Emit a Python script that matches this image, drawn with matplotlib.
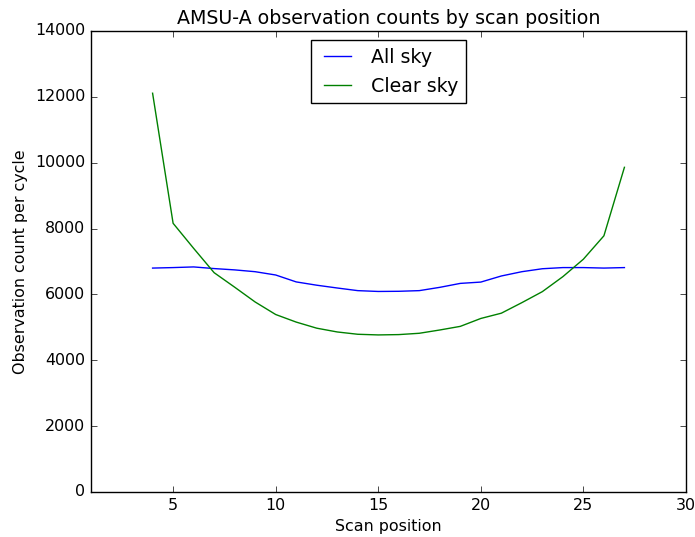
import matplotlib
matplotlib.use("Agg")
import matplotlib.pyplot as plt

# scan positions and observation counts per cycle
scan_pos = [4, 5, 6, 7, 8, 9, 10, 11, 12, 13, 14, 15, 16, 17, 18, 19, 20,
            21, 22, 23, 24, 25, 26, 27]
all_sky = [6800, 6815, 6835, 6785, 6745, 6690, 6590, 6380, 6280, 6195, 6115,
           6090, 6095, 6115, 6215, 6335, 6375, 6560, 6690, 6780, 6815, 6815,
           6800, 6815]
clear_sky = [12110, 8160, 7400, 6660, 6220, 5770, 5390, 5160, 4975, 4860,
             4790, 4770, 4780, 4820, 4920, 5030, 5270, 5430, 5750, 6085,
             6540, 7070, 7780, 9860]

plt.style.use("classic")
plt.rcParams["font.size"] = 11.4
fig = plt.figure(figsize=(6.95, 5.37), dpi=100)
ax = fig.add_axes([0.131, 0.0838, 0.856, 0.8585])

ax.plot(scan_pos, all_sky, label="All sky")
ax.plot(scan_pos, clear_sky, label="Clear sky")
ax.set_xlim(1, 30)
ax.set_ylim(0, 14000)
ax.set_title("AMSU-A observation counts by scan position")
ax.set_xlabel("Scan position")
ax.set_ylabel("Observation count per cycle")
ax.legend(loc="upper center")

fig.savefig("out.png", dpi=100)
